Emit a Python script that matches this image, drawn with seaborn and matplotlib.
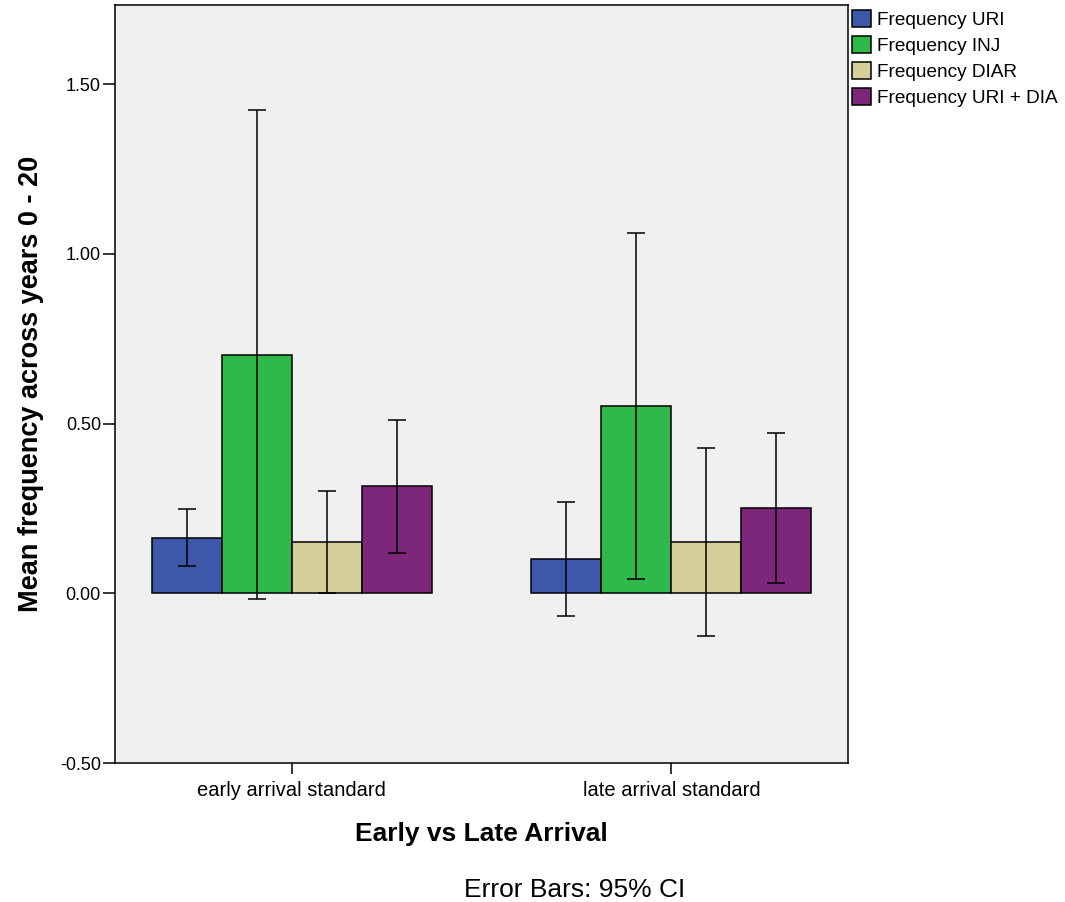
import numpy as np
import pandas as pd
import matplotlib
matplotlib.use("Agg")
import matplotlib.pyplot as plt
import seaborn as sns
from matplotlib.ticker import FormatStrFormatter
from matplotlib.patches import Patch, Rectangle

groups = ["early arrival standard", "late arrival standard"]
series = ["Frequency URI", "Frequency INJ", "Frequency DIAR", "Frequency URI + DIA"]
means_early = [0.164, 0.702, 0.151, 0.315]
means_late = [0.100, 0.551, 0.151, 0.251]
lower_early = [0.079, -0.018, 0.000, 0.120]
upper_early = [0.249, 1.424, 0.302, 0.510]
lower_late = [-0.068, 0.041, -0.126, 0.031]
upper_late = [0.270, 1.062, 0.427, 0.471]
colors = ["#3D57AB", "#2FB94A", "#D4CF99", "#7C2779"]

means = [means_early, means_late]
lowers = [lower_early, lower_late]
uppers = [upper_early, upper_late]

rows = []
for gi, g in enumerate(groups):
    for si, s in enumerate(series):
        rows.append({"group": g, "series": s, "mean": means[gi][si]})
df = pd.DataFrame(rows)

sns.set_style("white", {"axes.facecolor": "#F0F0F0"})
plt.rcParams["font.family"] = ["Liberation Sans", "DejaVu Sans"]
plt.rcParams["text.color"] = "black"
plt.rcParams["axes.labelcolor"] = "black"
plt.rcParams["xtick.color"] = "black"
plt.rcParams["ytick.color"] = "black"

fig = plt.figure(figsize=(10.65, 9.02), dpi=100)
ax = fig.add_axes([115 / 1065, 1 - 763 / 902, (848 - 115) / 1065, (763 - 5) / 902])
ax.set_facecolor("#F0F0F0")

sns.barplot(data=df, x="group", y="mean", hue="series", order=groups,
            hue_order=series, palette=colors, width=0.737, dodge=True,
            errorbar=None, edgecolor="black", linewidth=1.1, saturation=1,
            ax=ax, zorder=2)

bars = [p for p in ax.patches if isinstance(p, Rectangle) and p.get_width() > 0
        and abs(p.get_height()) > 0]
centers = {}
for p in bars:
    xc = p.get_x() + p.get_width() / 2
    gi = int(round(xc))
    centers.setdefault(gi, []).append(xc)

for gi, xs in centers.items():
    for si, xc in enumerate(sorted(xs)):
        m = means[gi][si]
        lo = lowers[gi][si]
        hi = uppers[gi][si]
        ax.errorbar([xc], [m], yerr=[[m - lo], [hi - m]], fmt="none",
                    ecolor="black", elinewidth=1.1, capsize=6.5,
                    capthick=1.1, zorder=3)

ax.set_xlim(-0.465, 1.465)
ax.set_ylim(-0.5, 1.733)
ax.set_yticks([-0.5, 0.0, 0.5, 1.0, 1.5])
ax.yaxis.set_major_formatter(FormatStrFormatter("%.2f"))

for sp in ax.spines.values():
    sp.set_visible(True)
    sp.set_color("black")
    sp.set_linewidth(1.1)

ax.tick_params(axis="both", direction="out", width=1.1, colors="black",
               left=True, bottom=True)
ax.tick_params(axis="y", length=8.6, pad=1.5, labelsize=13)
ax.tick_params(axis="x", length=8, pad=5, labelsize=14.5)

ax.set_xlabel("Early vs Late Arrival", fontsize=19, fontweight="bold")
ax.set_ylabel("Mean frequency across years 0 - 20", fontsize=19.5,
              fontweight="bold")
ax.xaxis.set_label_coords(0.5, -0.078)
ax.yaxis.set_label_coords(-0.097, 0.5)

handles = [Patch(facecolor=c, edgecolor="black", linewidth=1.1) for c in colors]
if ax.get_legend() is not None:
    ax.get_legend().remove()
fig.legend(handles, series, loc="upper left", bbox_to_anchor=(850 / 1065, 1 - 8 / 902),
           frameon=False, fontsize=13.7, handlelength=1.0, handleheight=1.0,
           handletextpad=0.3, labelspacing=0.36, borderaxespad=0, borderpad=0.1)

fig.text(575 / 1065, 1 - 890 / 902, "Error Bars: 95% CI", ha="center",
         va="center", fontsize=19)

fig.savefig("out.png", dpi=100, facecolor="white")
